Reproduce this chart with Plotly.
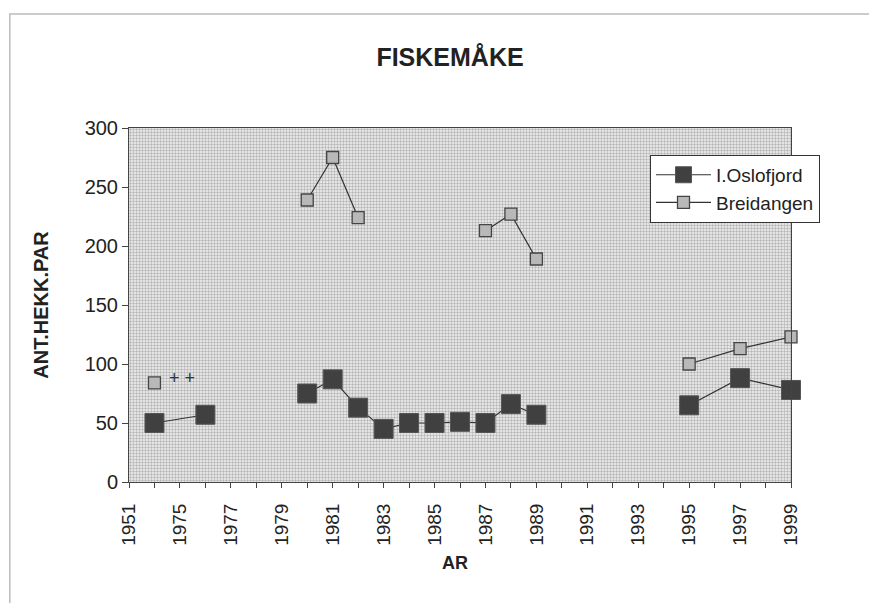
import plotly.graph_objects as go

# Category axis (years); every other one labelled
categories = [1951] + list(range(1974, 2000))
tick_labels = [str(c) if i % 2 == 0 else "" for i, c in enumerate(categories)]

# Series (None breaks the line)
oslo_years = [1974, 1976, None, 1980, 1981, 1982, 1983, 1984, 1985, 1986, 1987, 1988, 1989, None, 1995, 1997, 1999]
oslo_vals = [50, 57, None, 75, 87, 63, 45, 50, 50, 51, 50, 66, 57, None, 65, 88, 78]

breid_years = [1974, None, 1980, 1981, 1982, None, 1987, 1988, 1989, None, 1995, 1997, 1999]
breid_vals = [84, None, 239, 275, 224, None, 213, 227, 189, None, 100, 113, 123]


def idx(years):
    return [categories.index(y) if y is not None else None for y in years]


FONT = "Liberation Sans, Arial, sans-serif"

fig = go.Figure()

# patterned plot background
x0, x1 = 0, len(categories) - 1
fig.add_trace(go.Scatter(
    x=[x0, x1, x1, x0, x0], y=[0, 0, 300, 300, 0],
    mode="lines", line=dict(width=0), fill="toself",
    fillcolor="white",
    fillpattern=dict(shape=".", size=3, solidity=0.5, fgcolor="#7a7a7a", bgcolor="#f2f2f2"),
    hoverinfo="skip", showlegend=False,
))

fig.add_trace(go.Scatter(
    x=idx(oslo_years), y=oslo_vals, name="I.Oslofjord",
    mode="lines+markers", connectgaps=False, cliponaxis=False,
    line=dict(color="#333333", width=1.2),
    marker=dict(symbol="square", size=19, color="#404040", line=dict(color="#555555", width=1)),
))
fig.add_trace(go.Scatter(
    x=idx(breid_years), y=breid_vals, name="Breidangen",
    mode="lines+markers", connectgaps=False, cliponaxis=False,
    line=dict(color="#333333", width=1.2),
    marker=dict(symbol="square", size=12, color="#b8b8b8", line=dict(color="#444444", width=1.3)),
))

fig.add_annotation(x=categories.index(1974) + 0.5, y=88, text="+ +", showarrow=False,
                   font=dict(family=FONT, size=18, color="#333"), xanchor="left")
# x-axis title
fig.add_annotation(xref="paper", yref="paper", x=0.4925, y=-0.229, text="<b>AR</b>",
                   showarrow=False, font=dict(family=FONT, size=18, color="#222"),
                   xanchor="center", yanchor="middle")

fig.update_layout(
    width=877, height=603,
    paper_bgcolor="white", plot_bgcolor="white",
    margin=dict(l=121, r=94, t=120, b=129),
    title=dict(text="<b>FISKEMÅKE</b>", x=0.504, xref="container", xanchor="center",
               y=0.919, yref="container", yanchor="middle",
               font=dict(family=FONT, size=25, color="#222")),
    font=dict(family=FONT, size=19, color="#222"),
    legend=dict(x=0.787, y=0.924, xanchor="left", yanchor="top",
                bgcolor="white", bordercolor="#333", borderwidth=1,
                font=dict(family=FONT, size=19, color="#222"), itemwidth=55,
                tracegroupgap=2),
    showlegend=True,
    shapes=[dict(type="rect", xref="paper", yref="paper", x0=-0.18, x1=1.3, y0=-0.5, y1=1.322,
                 line=dict(color="#bbbbbb", width=1.5), fillcolor="rgba(0,0,0,0)", layer="below")],
)

fig.update_xaxes(
    type="linear", range=[x0, x1], tickmode="array",
    tickvals=list(range(len(categories))), ticktext=tick_labels,
    tickangle=-90, ticks="outside", ticklen=5, tickcolor="#444", ticklabelstandoff=8,
    showgrid=False, zeroline=False, showline=True, linecolor="#444", linewidth=1, mirror=True,
    tickfont=dict(family=FONT, size=19, color="#222"),
)
fig.update_yaxes(
    range=[0, 300], tickvals=[0, 50, 100, 150, 200, 250, 300],
    ticks="outside", ticklen=6, tickcolor="#444",
    showgrid=False, zeroline=False, showline=True, linecolor="#444", linewidth=1, mirror=True,
    tickfont=dict(family=FONT, size=20, color="#222"),
    title=dict(text="<b>ANT.HEKK.PAR</b>", font=dict(family=FONT, size=20, color="#222"), standoff=30),
)

fig.write_html("out.html")
